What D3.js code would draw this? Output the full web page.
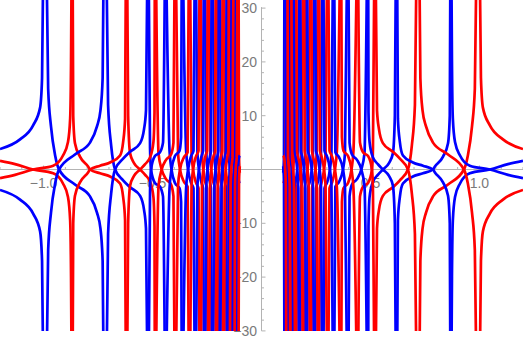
<!DOCTYPE html>
<html>
<head>
<meta charset="utf-8">
<script src="https://cdn.jsdelivr.net/npm/d3@7"></script>
<style>
  body { margin: 0; background: #fff; }
  svg { display: block; }
</style>
</head>
<body>
<svg id="chart" width="523" height="340"></svg>
<script>
// tick values
const xTicks = [-1.0, -0.5, 0.5, 1.0];
const xMinor = [-1.2, -1.1, -0.9, -0.8, -0.7, -0.6, -0.4, -0.3, -0.2, -0.1,
                0.1, 0.2, 0.3, 0.4, 0.6, 0.7, 0.8, 0.9, 1.1, 1.2];
const yTicks = [-30, -20, -10, 10, 20, 30];
const yMinor = [-28, -26, -24, -22, -18, -16, -14, -12, -8, -6, -4, -2,
                2, 4, 6, 8, 12, 14, 16, 18, 22, 24, 26, 28];

// the picture is mirrored top/bottom, and the right half is the left half
// flipped with the colours swapped, so each branch is drawn four times.
const blueLeft = [
  [[-1.2,-3.8],[-1.108,-5.6],[-1.048,-8.2],[-1.016,-11.5],[-1.007,-17],[-1.001,-40]],
  [[-0.987,40],[-0.979,15],[-0.966,8],[-0.947,2.6],[-0.929,0],[-0.856,-2.8],[-0.787,-5.0],[-0.755,-8],[-0.739,-11],[-0.729,-17],[-0.724,-40]],
  [[-0.712,40],[-0.704,12],[-0.690,4.5],[-0.672,0],[-0.635,-2],[-0.603,-3.3],[-0.557,-4.9],[-0.539,-7.5],[-0.530,-11],[-0.523,-40]],
  [[-0.5183,40],[-0.5115,4],[-0.507,0],[-0.489,-2.5],[-0.466,-3.2],[-0.452,-5],[-0.4427,-40]],
  [[-0.4381,40],[-0.422,3.5],[-0.413,0],[-0.397,-2.5],[-0.376,-3.5],[-0.369,-6],[-0.3656,-40]],
  [[-0.361,40],[-0.346,3.5],[-0.337,0],[-0.323,-2.5],[-0.312,-3.5],[-0.306,-40]],
  [[-0.3014,40],[-0.294,3],[-0.287,0],[-0.275,-2.5],[-0.268,-3.5],[-0.2642,-40]],
  [[-0.2596,40],[-0.253,3],[-0.248,0],[-0.236,-2.5],[-0.232,-3.5],[-0.2284,-40]],
  [[-0.2239,40],[-0.2165,3],[-0.211,0],[-0.202,-2.5],[-0.198,-3.5],[-0.1954,-40]],
  [[-0.1908,40],[-0.1835,3],[-0.179,0],[-0.167,-2.5],[-0.163,-3.5],[-0.1596,-40]],
  [[-0.155,40],[-0.149,3],[-0.1454,0],[-0.140,-2.3],[-0.1367,-40]],
  [[-0.1321,40],[-0.1294,3],[-0.126,0],[-0.1216,-2.3],[-0.1188,-40]],
  [[-0.1142,40],[-0.1115,2.8],[-0.1087,0],[-0.1032,-2.3],[-0.0995,-2.6]]
];

const redLeft = [
  [[-1.2,1.6],[-1.131,1.0],[-1.048,0],[-0.956,-0.7],[-0.911,-2.6],[-0.888,-5.1],[-0.878,-9.5],[-0.874,-20],[-0.871,-40]],
  [[-0.867,40],[-0.864,10],[-0.856,4.9],[-0.833,2.4],[-0.795,0.5],[-0.787,0],[-0.741,-0.7],[-0.695,-1.3],[-0.649,-2.6],[-0.635,-5.1],[-0.626,-9.4],[-0.622,-40]],
  [[-0.617,40],[-0.612,10],[-0.603,3],[-0.585,1.2],[-0.557,0],[-0.534,-1.0],[-0.511,-2.3],[-0.496,-5.1],[-0.491,-10.6],[-0.4894,-40]],
  [[-0.4849,40],[-0.4725,3],[-0.458,0],[-0.438,-1.8],[-0.415,-2.8],[-0.404,-5],[-0.3982,-40]],
  [[-0.3936,40],[-0.383,3],[-0.374,0],[-0.3555,-2.3],[-0.339,-3.2],[-0.333,-40]],
  [[-0.3284,40],[-0.321,3],[-0.314,0],[-0.300,-2.5],[-0.289,-3.5],[-0.2835,-40]],
  [[-0.2789,40],[-0.273,3],[-0.267,0],[-0.257,-2.5],[-0.250,-3.5],[-0.2463,-40]],
  [[-0.2417,40],[-0.236,3],[-0.2307,0],[-0.220,-2.5],[-0.213,-3.5],[-0.2096,-40]],
  [[-0.205,40],[-0.2005,3],[-0.195,0],[-0.1858,-2.5],[-0.181,-3.5],[-0.1775,-40]],
  [[-0.1729,40],[-0.1683,3],[-0.1638,0],[-0.156,-2.5],[-0.152,-3.5],[-0.150,-40]],
  [[-0.1454,40],[-0.1422,3],[-0.139,0],[-0.133,-2.3],[-0.1284,-40]],
  [[-0.1239,40],[-0.1216,3],[-0.1188,0],[-0.1138,-2.3],[-0.1101,-40]],
  [[-0.1055,40],[-0.1032,2.5],[-0.1009,0],[-0.0995,-0.6]]
];

const BLUE = "#0000ff";
const RED = "#ff0000";
const AXIS = "#b3b3b3";
const LABEL = "#7a7a7a";

const width = 523, height = 340;
const svg = d3.select("#chart");

var x = d3.scaleLinear().domain([-1.2, 1.2]).range([0, width]);
var y = d3.scaleLinear().domain([-30, 30]).range([330.9, 8.1]);

const x0 = x(0), y0 = y(0);

// axes first, curves are drawn over the labels
var axes = svg.append("g");
axes.append("line")
  .attr("x1", 0).attr("x2", width).attr("y1", y0).attr("y2", y0)
  .attr("stroke", AXIS).attr("stroke-width", 1);
axes.append("line")
  .attr("x1", x0).attr("x2", x0).attr("y1", y(30) - 1).attr("y2", y(-30))
  .attr("stroke", AXIS).attr("stroke-width", 1);

axes.selectAll(".xt").data(xTicks.concat(xMinor)).enter().append("line")
  .attr("x1", d => x(d)).attr("x2", d => x(d))
  .attr("y1", y0).attr("y2", d => y0 - (xTicks.includes(d) ? 4 : 2.5))
  .attr("stroke", AXIS);
axes.selectAll(".yt").data(yTicks.concat(yMinor)).enter().append("line")
  .attr("y1", d => y(d)).attr("y2", d => y(d))
  .attr("x1", x0).attr("x2", d => x0 + (yTicks.includes(d) ? 4 : 2.5))
  .attr("stroke", AXIS);

const fmt = v => (v < 0 ? "\u2212" : "") + Math.abs(v).toFixed(1);
axes.selectAll(".xl").data(xTicks).enter().append("text")
  .attr("x", d => x(d)).attr("y", y0 + 18.5)
  .attr("text-anchor", "middle")
  .attr("font-family", "Liberation Sans, Arial, sans-serif")
  .attr("font-size", 14).attr("fill", LABEL)
  .text(fmt);
axes.selectAll(".yl").data(yTicks).enter().append("text")
  .attr("x", x0 - 4.5).attr("y", d => y(d) + 5)
  .attr("text-anchor", "end")
  .attr("font-family", "Liberation Sans, Arial, sans-serif")
  .attr("font-size", 14).attr("fill", LABEL)
  .text(d => (d < 0 ? "\u2212" : "") + Math.abs(d));

// clip the curves to the plot area
svg.append("clipPath").attr("id", "plotclip")
  .append("rect").attr("x", 0).attr("y", 0).attr("width", width).attr("height", y(-30));

var line = d3.line()
  .x(d => x(d[0])).y(d => y(d[1]))
  .curve(d3.curveMonotoneX);

const flipX = b => b.map(d => [-d[0], d[1]]).reverse();
const flipY = b => b.map(d => [d[0], -d[1]]);

// four drawing passes, like four plotted functions:
// blue, red, then their mirror images
var passes = [
  { color: BLUE, parts: blueLeft.concat(redLeft.map(flipX)) },
  { color: RED, parts: redLeft.concat(blueLeft.map(flipX)) },
  { color: BLUE, parts: blueLeft.concat(redLeft.map(flipX)).map(flipY) },
  { color: RED, parts: redLeft.concat(blueLeft.map(flipX)).map(flipY) }
];

var curves = svg.append("g").attr("clip-path", "url(#plotclip)");
passes.forEach(function(p) {
  curves.append("g").selectAll("path").data(p.parts).enter().append("path")
    .attr("d", line)
    .attr("fill", "none").attr("stroke", p.color).attr("stroke-width", 2.7)
    .attr("stroke-linejoin", "round");
});
</script>
</body>
</html>
